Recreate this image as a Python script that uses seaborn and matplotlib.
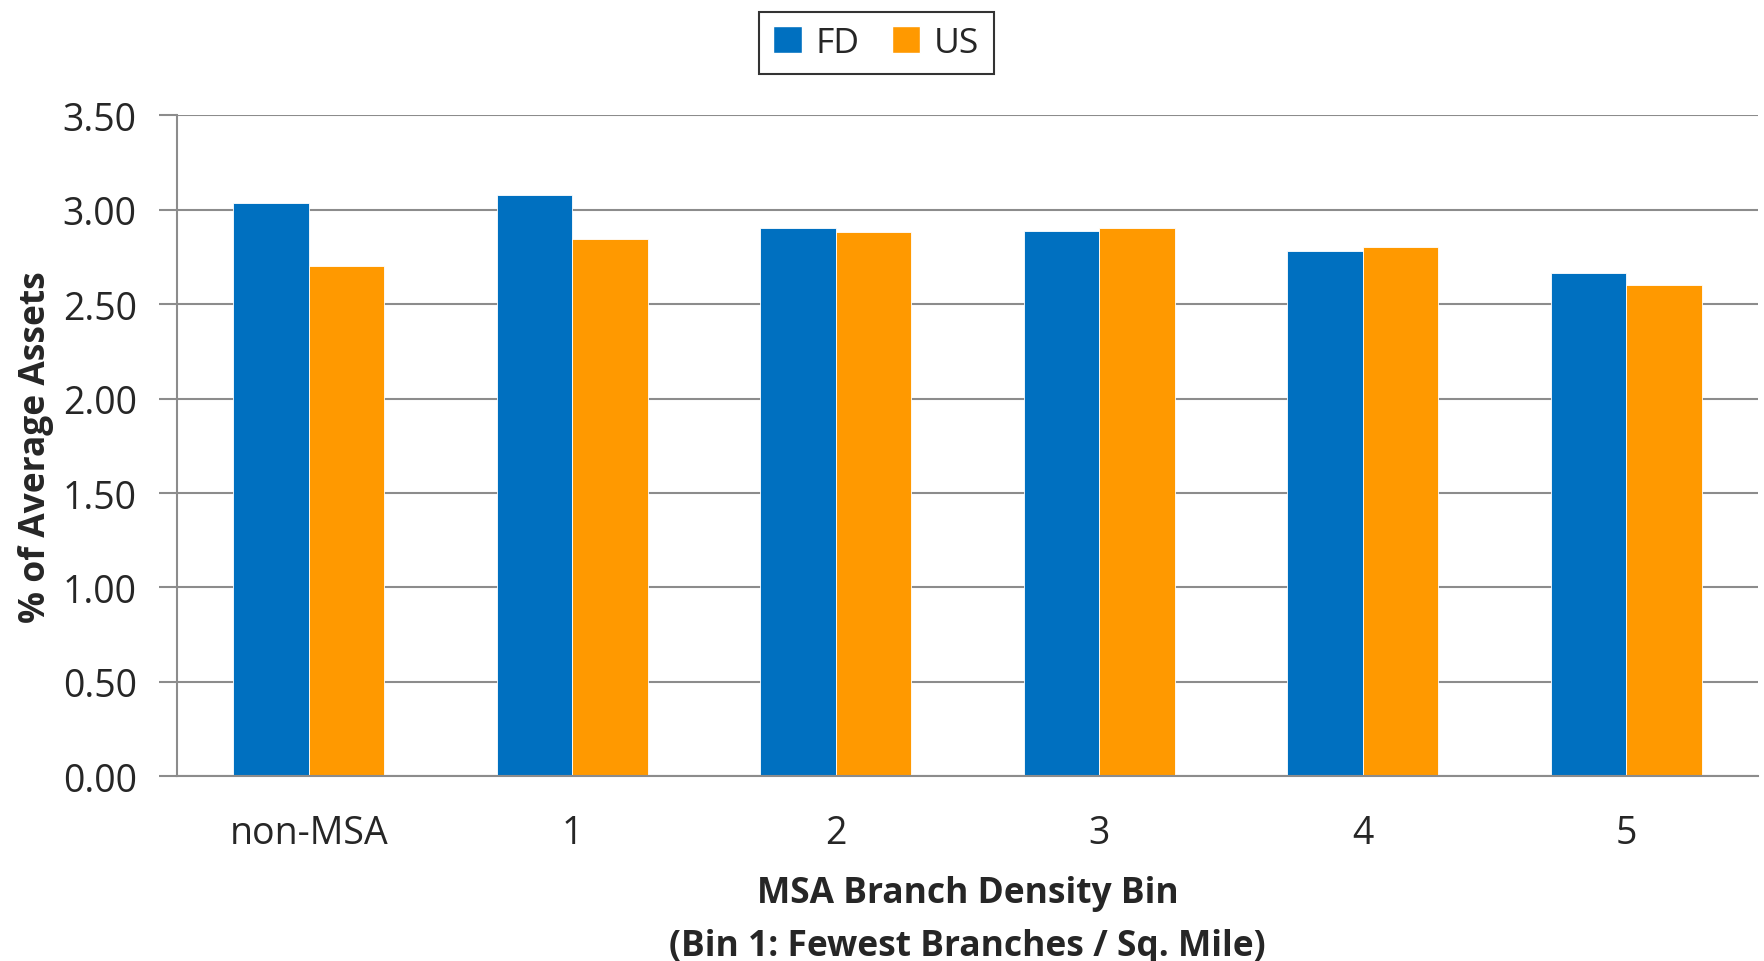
import pandas as pd
import matplotlib
matplotlib.use("Agg")
import matplotlib.pyplot as plt
import seaborn as sns
from matplotlib.patches import Patch

# Data
bins = ["non-MSA", "1", "2", "3", "4", "5"]
fd_values = [3.035, 3.08, 2.905, 2.89, 2.78, 2.663]
us_values = [2.70, 2.848, 2.88, 2.906, 2.803, 2.604]
series = ["FD", "US"]
colors = ["#0070C0", "#FF9900"]
y_ticks = [0.0, 0.5, 1.0, 1.5, 2.0, 2.5, 3.0, 3.5]

df = pd.DataFrame({
    "bin": bins * 2,
    "value": fd_values + us_values,
    "series": [series[0]] * len(bins) + [series[1]] * len(bins),
})

sns.set_style("white")
plt.rcParams["font.family"] = ["Open Sans", "DejaVu Sans"]

fig = plt.figure(figsize=(17.65, 9.62), dpi=100)
ax = fig.add_axes([0.1003, 0.192, 0.8957, 0.687])

sns.barplot(data=df, x="bin", y="value", hue="series", order=bins,
            hue_order=series, palette=colors, width=0.572, saturation=1,
            edgecolor="white", linewidth=0.6, ax=ax, legend=False)

ax.set_ylim(0, 3.5)
ax.set_xlim(-0.5, len(bins) - 0.5)
ax.set_yticks(y_ticks)
ax.set_yticklabels([f"{t:.2f}" for t in y_ticks])
ax.yaxis.grid(True, color="#8c8c8c", linewidth=1.5)
ax.set_axisbelow(True)

for s in ["top", "right"]:
    ax.spines[s].set_visible(False)
for s in ["left", "bottom"]:
    ax.spines[s].set_color("#8c8c8c")
    ax.spines[s].set_linewidth(1.5)

# category boundary ticks on x axis
ax.set_xticks([i - 0.5 for i in range(len(bins) + 1)], minor=True)
ax.tick_params(axis="x", which="minor", length=13, width=1.5, color="#8c8c8c", direction="out")
ax.tick_params(axis="x", which="major", length=0, labelsize=27, pad=27)
ax.tick_params(axis="y", length=13, width=1.5, color="#8c8c8c", labelsize=27, pad=16, left=True)

ax.set_xlabel("MSA Branch Density Bin\n(Bin 1: Fewest Branches / Sq. Mile)",
              fontsize=25.5, fontweight="bold", labelpad=17, linespacing=1.6)
ax.set_ylabel("% of Average Assets", fontsize=25.5, fontweight="bold", labelpad=6)

handles = [Patch(facecolor=c, label=s) for c, s in zip(colors, series)]
leg = fig.legend(handles=handles, loc="upper center", bbox_to_anchor=(0.4965, 1.005),
                 ncol=2, frameon=True, fancybox=False, fontsize=25.5,
                 handlelength=0.8, handleheight=0.8, handletextpad=0.4,
                 columnspacing=0.9, borderpad=0.4)
leg.get_frame().set_edgecolor("black")
leg.get_frame().set_linewidth(1.5)

fig.savefig("out.png", dpi=100)
